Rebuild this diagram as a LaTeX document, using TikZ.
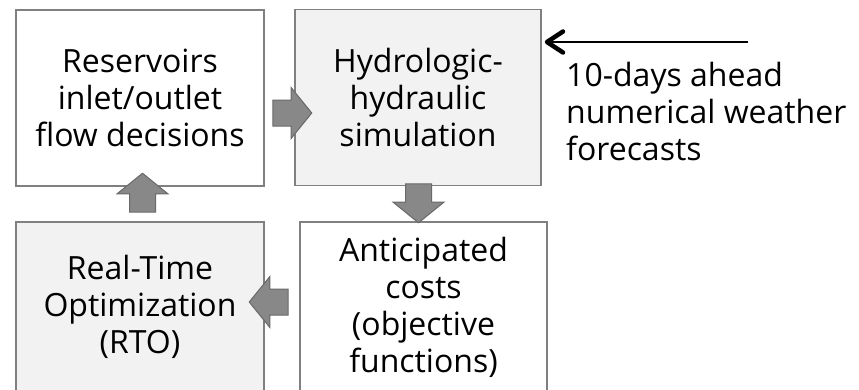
\documentclass[tikz,border=0pt]{standalone}
\usepackage{fontspec}
\setmainfont{Open Sans}
\usetikzlibrary{shapes.arrows,arrows.meta}
\definecolor{boxline}{RGB}{128,128,128}
\definecolor{boxgray}{RGB}{242,242,242}
\definecolor{blockfill}{RGB}{136,136,136}
\definecolor{blockline}{RGB}{105,105,105}

\begin{document}
\begin{tikzpicture}[x=1pt,y=-1pt,
    box/.style={draw=boxline, line width=1.5pt, fill=white, align=center,
      inner sep=0pt, font=\fontsize{32}{37}\selectfont},
    graybox/.style={box, fill=boxgray},
    blockarrow/.style={shape=single arrow, draw=blockline, fill=blockfill,
      line width=1pt, inner sep=12.5pt, minimum height=39pt,
      single arrow head extend=12.5pt, single arrow tip angle=102}]
  \useasboundingbox (0,0) rectangle (859,389);

  \node[box, minimum width=248pt, minimum height=176pt] (res) at (140,98)
    {Reservoirs\\inlet/outlet\\flow decisions};
  \node[graybox, minimum width=246pt, minimum height=176pt] (sim) at (418,97.5)
    {Hydrologic-\\hydraulic\\simulation};
  \node[box, minimum width=247pt, minimum height=170pt] (cost) at (423.5,307)
    {Anticipated\\costs\\(objective\\functions)};
  \node[graybox, minimum width=248pt, minimum height=170pt] (rto) at (140,307)
    {Real-Time\\Optimization\\(RTO)};

  \node[blockarrow] (res2sim) at (287,113) {};
  \node[blockarrow, shape border rotate=270] (sim2cost) at (418.5,198) {};
  \node[blockarrow, shape border rotate=180] (cost2rto) at (274,302) {};
  \node[blockarrow, shape border rotate=90] (rto2res) at (142.5,198) {};

  \coordinate (fcst) at (748,42);
  \draw[line width=1.5pt, shorten >=3pt,
    -{Straight Barb[length=16pt, width=21pt, line width=4.5pt, round]}]
    (fcst) -- (sim.east |- fcst);
  \node[anchor=north west, align=left, inner sep=0pt,
    font=\fontsize{32}{37}\selectfont] (nwp) at (566,62)
    {10-days ahead\\numerical weather\\forecasts};
\end{tikzpicture}
\end{document}
